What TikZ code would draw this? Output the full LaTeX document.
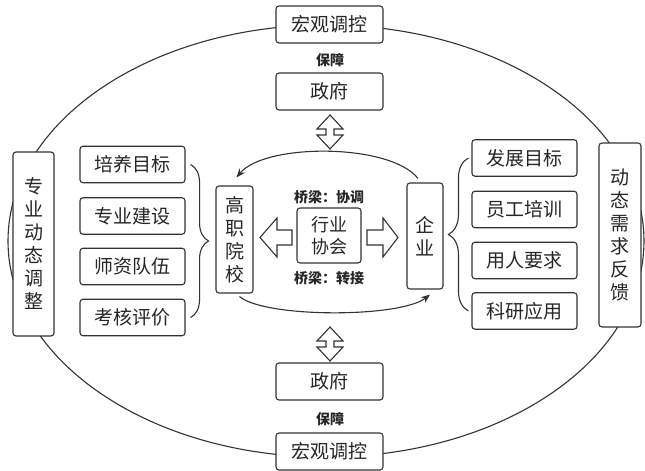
\documentclass[tikz,border=0pt]{standalone}
\usepackage{fontspec}
\setmainfont{Noto Sans CJK SC}
\usetikzlibrary{calc,positioning,arrows.meta,decorations.pathreplacing}

\begin{document}
\begin{tikzpicture}
[x=1pt,y=1pt,
box/.style={
	draw=black!80,
        fill=white,
        rounded corners=3pt,
        line width=1.1pt,
        inner sep=0pt,
        text=black!85,
        font=\fontsize{19}{23}\selectfont,
    },
wide/.style={box, minimum width=107pt, minimum height=37pt},
item/.style={box, minimum width=105pt, minimum height=36.5pt},
tall/.style={box, align=center},
note/.style={text=black!85, font=\bfseries\fontsize{14}{16}\selectfont},
loop/.style={draw=black!80, line width=1.1pt},
blockarrow/.style={draw=black!80, fill=white, line width=1.1pt, line join=miter},]
\useasboundingbox (0,0) rectangle (645,471);

% draw the outer ellipse
\draw[loop] (326,230) ellipse (318pt and 216pt);

% top and bottom
\node[wide] (macrotop) at (329.5,446.5) {宏观调控};
\node[note] (guartop) at (330,411) {保障};
\node[wide] (govtop) at (329.5,379.5) {政府};
\node[wide] (govbot) at (329.5,89.5) {政府};
\node[note] (guarbot) at (330,52) {保障};
\node[wide] (macrobot) at (329.5,19.5) {宏观调控};

% draw the middle part
\node[tall, minimum width=37pt, minimum height=107pt] (college) at (234.5,231.5) {高\\职\\院\\校};
\node[tall, minimum width=36pt, minimum height=106pt] (firm) at (425,235) {企\\业};
\node[tall, minimum width=64pt, minimum height=55pt, font=\fontsize{18}{22}\selectfont] (assoc) at (329,235.5) {行业\\协会};
\node[note] (coord) at (329,274) {桥梁：协调};
\node[note] (link) at (329,193) {桥梁：转接};

% left boxes
\node[tall, minimum width=41pt, minimum height=184pt] (adjust) at (33.5,227) {专\\业\\动\\态\\调\\整};
\node[item] (train) at (132.5,306.5) {培养目标};
\node[item] (major) at (132.5,255) {专业建设};
\node[item] (staff) at (132.5,204.5) {师资队伍};
\node[item] (assess) at (132.5,153.5) {考核评价};

% right boxes
\node[tall, minimum width=42pt, minimum height=184pt] (feedback) at (620,236) {动\\态\\需\\求\\反\\馈};
\node[item] (goal) at (524.5,313) {发展目标};
\node[item] (staffup) at (524.5,261.5) {员工培训};
\node[item] (demand) at (524.5,210.5) {用人要求};
\node[item] (research) at (524.5,160) {科研应用};

% braces
\draw[loop, decorate, decoration={brace, amplitude=18pt}] ($(train.east)+(5,0)$) -- ($(assess.east)+(5,0)$);
\draw[loop, decorate, decoration={brace, amplitude=20pt}] ($(research.west)+(-3,0)$) -- ($(goal.west)+(-3,0)$);

% block arrows
\draw[blockarrow] (260,233.5) -- (277,253) -- (277,241) -- (292,241) -- (292,226) -- (277,226) -- (277,214) -- cycle;
\draw[blockarrow] (398,233.5) -- (383,253) -- (383,241) -- (367,241) -- (367,226) -- (383,226) -- (383,214) -- cycle;
\draw[blockarrow] (330,356) -- (343,342) -- (334,342) -- (334,336) -- (343,336) -- (330,322) -- (317,336) -- (326,336) -- (326,342) -- (317,342) -- cycle;
\draw[blockarrow] (330,144) -- (343,130) -- (334,130) -- (334,124) -- (343,124) -- (330,110) -- (317,124) -- (326,124) -- (326,130) -- (317,130) -- cycle;

%draw lines
\draw[loop, -{Stealth[length=9pt,width=7pt]}] ($(firm.north)+(-7,4)$) .. controls (390,328) and (265,328) .. ($(college.north)+(2,8)$);
\draw[loop, -{Stealth[length=9pt,width=7pt]}] ($(college.south)+(5,-3)$) .. controls (265,153) and (400,153) .. ($(firm.south)+(5,-5)$);
\end{tikzpicture}
\end{document}
